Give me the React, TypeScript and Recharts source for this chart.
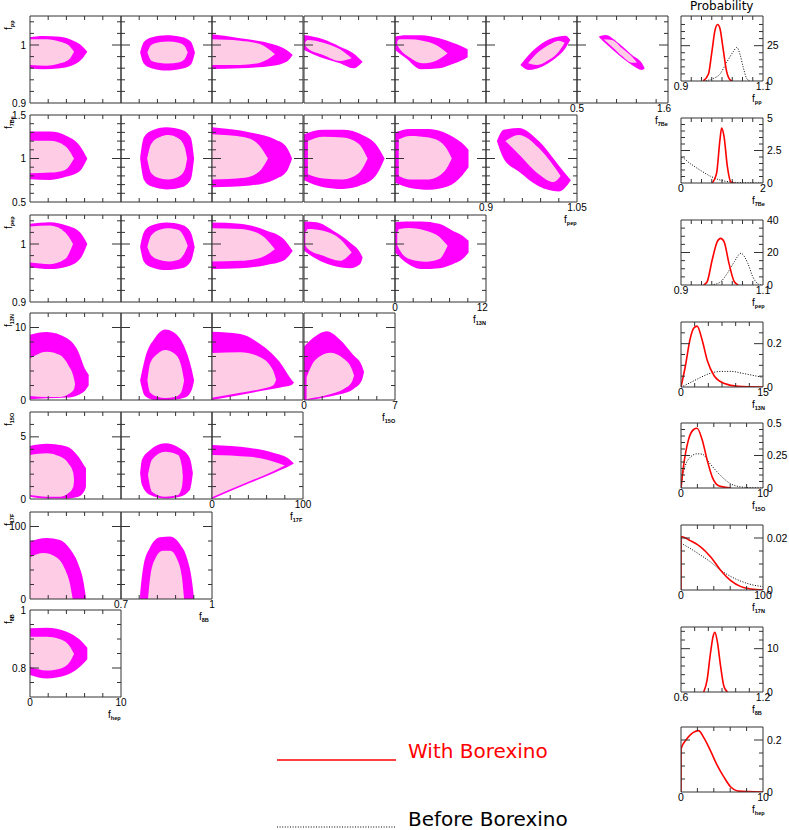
import React from "react";
import { ComposedChart, Area, Line, XAxis, YAxis } from "recharts";

type Band = [number, number, number]; // x, low, high
type Pt = [number, number];

// ---- pairwise 1σ/2σ regions, row variable on y, column variable on x ----
// row pp
const ppHepO: Band[] = [[0, 0.9598, 1.0132], [1.46, 0.958, 1.0155], [3.3, 0.9598, 1.0144], [4.76, 0.9655, 1.0075], [5.68, 0.9753, 0.9989], [6.3, 0.9885, 0.9885]];
const ppHepI: Band[] = [[0, 0.9655, 1.0098], [1.83, 0.9644, 1.0098], [3.3, 0.9684, 1.0057], [4.21, 0.9741, 1.0], [4.84, 0.9885, 0.9885]];
const pp8BO: Band[] = [[0.763, 0.987, 0.987], [0.775, 0.968, 1.005], [0.8, 0.96, 1.013], [0.85, 0.956, 1.017], [0.9, 0.959, 1.014], [0.93, 0.966, 1.006], [0.944, 0.987, 0.987]];
const pp8BI: Band[] = [[0.787, 0.987, 0.987], [0.8, 0.973, 1.0], [0.83, 0.969, 1.005], [0.855, 0.968, 1.006], [0.89, 0.97, 1.004], [0.91, 0.976, 0.998], [0.92, 0.987, 0.987]];
const pp17FO: Band[] = [[0, 0.9586, 1.0184], [30.8, 0.9598, 1.0116], [67, 0.9644, 1.0012], [82, 0.9712, 0.9914], [88.7, 0.9828, 0.9828]];
const pp17FI: Band[] = [[0, 0.9655, 1.0098], [30.8, 0.9655, 1.0074], [52.7, 0.9695, 1.0017], [69.2, 0.984, 0.984]];
const pp15OO: Band[] = [[0, 0.9914, 1.0172], [1.48, 0.977, 1.0098], [2.77, 0.9684, 0.9971], [3.79, 0.9598, 0.9857], [4.51, 0.9712, 0.9712]];
const pp15OI: Band[] = [[0.1, 0.999, 1.005], [0.28, 0.9943, 1.0086], [1.48, 0.9828, 1.004], [2.77, 0.9724, 0.9925], [3.67, 0.977, 0.977]];
const pp13NO: Band[] = [[0, 0.9914, 1.0144], [1.51, 0.977, 1.0167], [3.57, 0.958, 1.0167], [6.08, 0.9598, 1.0115], [7.92, 0.9672, 1.004], [9.29, 0.9741, 0.9971], [9.98, 0.9787, 0.9925]];
const pp13NI: Band[] = [[0.31, 1.0, 1.006], [0.59, 0.9943, 1.0098], [1.97, 0.9787, 1.0098], [3.79, 0.9684, 1.0075], [5.64, 0.973, 1.0], [7.23, 0.9856, 0.9856]];
const ppPepO: Band[] = [[0.9567, 0.9655, 0.9655], [0.9704, 0.9569, 0.9828], [0.9923, 0.9626, 1.0029], [1.0144, 0.977, 1.0132], [1.0309, 0.9943, 1.0161], [1.039, 1.0086, 1.0086]];
const ppPepI: Band[] = [[0.9692, 0.9684, 0.9684], [0.984, 0.9655, 0.9856], [1.0033, 0.9741, 1.0], [1.0198, 0.9885, 1.0075], [1.0297, 1.004, 1.004]];
const pp7BeO: Band[] = [[0.774, 1.0144, 1.0144], [0.859, 1.0029, 1.0172], [1.027, 0.9828, 1.0029], [1.195, 0.9655, 0.9828], [1.321, 0.9569, 0.9684], [1.356, 0.9598, 0.9598]];
const pp7BeI: Band[] = [[0.837, 1.0098, 1.0098], [0.942, 0.9971, 1.0086], [1.069, 0.981, 0.9943], [1.195, 0.9695, 0.9799], [1.258, 0.97, 0.97]];
// row 7Be
const be7HepO: Band[] = [[0, 0.761, 1.311], [2.2, 0.754, 1.311], [4.03, 0.792, 1.26], [5.49, 0.857, 1.145], [6.3, 1.0, 1.0]];
const be7HepI: Band[] = [[0, 0.83, 1.203], [2.2, 0.838, 1.203], [3.85, 0.869, 1.145], [4.84, 1.0, 1.0]];
const be78BO: Band[] = [[0.763, 1.0, 1.0], [0.775, 0.76, 1.24], [0.8, 0.68, 1.32], [0.85, 0.645, 1.36], [0.9, 0.67, 1.33], [0.93, 0.76, 1.24], [0.941, 1.0, 1.0]];
const be78BI: Band[] = [[0.786, 1.0, 1.0], [0.8, 0.83, 1.17], [0.83, 0.77, 1.25], [0.855, 0.76, 1.27], [0.89, 0.79, 1.23], [0.91, 0.87, 1.13], [0.918, 1.0, 1.0]];
const be717FO: Band[] = [[0, 0.67, 1.36], [42, 0.69, 1.3], [69, 0.76, 1.22], [82, 0.85, 1.13], [88, 1.0, 1.0]];
const be717FI: Band[] = [[0, 0.76, 1.28], [36, 0.78, 1.245], [52, 0.85, 1.15], [61.5, 1.0, 1.0]];
const be715OO: Band[] = [[0, 0.75, 1.28], [1.5, 0.67, 1.33], [3.0, 0.65, 1.33], [4.5, 0.7, 1.27], [5.6, 0.82, 1.15], [6.2, 1.0, 1.0]];
const be715OI: Band[] = [[0.3, 0.82, 1.2], [1.5, 0.77, 1.25], [3.0, 0.76, 1.24], [4.2, 0.83, 1.17], [4.9, 1.0, 1.0]];
const be713NO: Band[] = [[0, 0.72, 1.3], [2.08, 0.66, 1.34], [4.69, 0.64, 1.34], [7.29, 0.68, 1.28], [9.17, 0.8, 1.18], [10.1, 0.9, 1.1]];
const be713NI: Band[] = [[0.52, 0.8, 1.22], [2.08, 0.76, 1.26], [4.69, 0.76, 1.24], [6.77, 0.85, 1.15], [7.81, 1.0, 1.0]];
const be7PepO: Band[] = [[0.918, 1.2, 1.2], [0.929, 1.0, 1.33], [0.954, 0.85, 1.35], [0.987, 0.68, 1.2], [1.02, 0.62, 0.92], [1.04, 0.75, 0.75]];
const be7PepI: Band[] = [[0.932, 1.2, 1.2], [0.954, 1.05, 1.27], [0.987, 0.82, 1.12], [1.011, 0.73, 0.92], [1.023, 0.8, 0.8]];
// row pep
const pepHepO: Band[] = [[0, 0.9594, 1.0347], [2.2, 0.9567, 1.0374], [4.03, 0.9607, 1.0317], [5.49, 0.974, 1.0201], [6.3, 1.0, 1.0]];
const pepHepI: Band[] = [[0, 0.968, 1.03], [2.2, 0.9653, 1.0317], [3.85, 0.974, 1.0201], [4.73, 1.0, 1.0]];
const pep8BO: Band[] = [[0.763, 0.995, 0.995], [0.775, 0.97, 1.02], [0.8, 0.96, 1.032], [0.85, 0.955, 1.037], [0.9, 0.958, 1.033], [0.93, 0.97, 1.02], [0.943, 0.995, 0.995]];
const pep8BI: Band[] = [[0.787, 0.995, 0.995], [0.8, 0.98, 1.015], [0.83, 0.972, 1.025], [0.855, 0.97, 1.027], [0.89, 0.973, 1.024], [0.91, 0.985, 1.01], [0.92, 0.997, 0.997]];
const pep17FO: Band[] = [[0, 0.957, 1.037], [30.8, 0.958, 1.035], [60.1, 0.964, 1.023], [78.4, 0.971, 1.009], [88.7, 0.988, 0.988]];
const pep17FI: Band[] = [[0, 0.97, 1.027], [30.8, 0.971, 1.026], [52.7, 0.976, 1.017], [69.2, 0.991, 0.991]];
const pep15OO: Band[] = [[0, 0.9884, 1.039], [0.97, 0.974, 1.0374], [2.25, 0.9624, 1.023], [3.54, 0.9584, 1.0028], [4.31, 0.9653, 0.9855], [4.51, 0.9768, 0.9768]];
const pep15OI: Band[] = [[0.1, 0.998, 1.02], [0.33, 0.991, 1.026], [1.48, 0.9797, 1.023], [2.77, 0.971, 1.0087], [3.67, 0.9855, 0.9855]];
const pep13NO: Band[] = [[0, 0.9855, 1.0374], [1.51, 0.968, 1.039], [3.57, 0.9567, 1.039], [6.08, 0.9584, 1.0347], [7.92, 0.9653, 1.023], [9.29, 0.974, 1.0144], [10.11, 0.9855, 1.0057]];
const pep13NI: Band[] = [[0.31, 0.998, 1.02], [0.59, 0.991, 1.026], [1.97, 0.974, 1.0277], [4.26, 0.9693, 1.023], [6.08, 0.974, 1.0127], [7.23, 0.997, 0.997]];
// row 13N
const n13HepO: Band[] = [[0, 0.1, 9.01], [1.83, 0.23, 9.39], [4.03, 0.33, 8.54], [5.31, 0.7, 6.67], [6.04, 1.27, 4.32], [6.45, 2.0, 3.5]];
const n13HepI: Band[] = [[0, 0.56, 5.73], [1.83, 0.42, 6.67], [3.3, 0.42, 6.2], [4.21, 0.8, 4.79], [4.84, 1.5, 2.91], [4.95, 2.2, 2.2]];
const n138BO: Band[] = [[0.763, 2.68, 2.68], [0.779, 0.56, 5.73], [0.812, 0.0, 8.55], [0.845, 0.0, 9.72], [0.877, 0.05, 9.25], [0.911, 0.33, 7.14], [0.934, 1.5, 4.08], [0.941, 2.68, 2.68]];
const n138BI: Band[] = [[0.787, 2.68, 2.68], [0.796, 1.03, 5.02], [0.822, 0.42, 6.43], [0.845, 0.28, 6.9], [0.878, 0.42, 6.34], [0.898, 1.03, 4.79], [0.908, 2.68, 2.68]];
const n1317FO: Band[] = [[0, 0, 9.4], [31, 0.7, 9.1], [52, 1.2, 7.8], [74, 1.7, 5.3], [88, 2.1, 2.7], [90, 2.4, 2.4]];
const n1317FI: Band[] = [[0, 0.3, 6.5], [31, 1.0, 6.6], [53, 1.5, 5.9], [67, 2.0, 4.1], [70.5, 2.8, 2.8]];
const n1315OO: Band[] = [[0, 0, 7.37], [0.85, 0.1, 8.77], [1.75, 0.42, 9.48], [2.77, 0.8, 8.31], [3.79, 1.5, 6.2], [4.44, 2.68, 4.79], [4.62, 3.85, 3.85]];
const n1315OI: Band[] = [[0.2, 0.1, 3.14], [0.85, 0.33, 5.49], [2.0, 0.8, 6.53], [3.03, 1.5, 5.73], [3.67, 2.44, 4.32], [3.85, 3.38, 3.38]];
// row 15O
const o15HepO: Band[] = [[0, 0.19, 4.27], [1.83, 0.05, 4.44], [4.03, 0.05, 4.22], [5.31, 0.19, 3.41], [6.04, 0.73, 2.6], [6.15, 0.99, 2.5]];
const o15HepI: Band[] = [[0, 0.32, 3.55], [1.83, 0.19, 3.68], [3.3, 0.19, 3.41], [4.21, 0.46, 2.87], [4.76, 0.99, 2.07], [4.84, 1.53, 1.53]];
const o158BO: Band[] = [[0.763, 2.07, 2.07], [0.769, 1.13, 3.15], [0.796, 0.32, 3.95], [0.845, 0.05, 4.49], [0.894, 0.19, 4.09], [0.927, 0.73, 3.28], [0.937, 2.07, 2.07]];
const o158BI: Band[] = [[0.789, 1.94, 1.94], [0.802, 0.59, 3.15], [0.845, 0.19, 3.81], [0.888, 0.32, 3.55], [0.901, 1.0, 2.6], [0.904, 1.8, 1.8]];
const o1517FO: Band[] = [[0, 0, 4.35], [42, 1.3, 4.11], [68, 2.1, 3.7], [85, 2.65, 3.2], [90, 2.85, 2.85]];
const o1517FI: Band[] = [[0, 0.15, 3.55], [42, 1.45, 3.39], [68, 2.25, 3.0], [80, 2.7, 2.7]];
// row 17F
const f17HepO: Band[] = [[0, 0, 79.6], [1.83, 0, 84.3], [3.3, 0, 81.5], [4.4, 0, 69], [5.31, 0, 48.1], [5.86, 0, 25], [6.15, 0, 1.8]];
const f17HepI: Band[] = [[0, 0, 57.4], [1.47, 0, 63.4], [2.93, 0, 57.4], [3.85, 0, 41.2], [4.4, 0, 20.4], [4.69, 0, 0]];
const f178BO: Band[] = [[0.763, 0, 6.5], [0.773, 0, 43.5], [0.796, 0, 71.3], [0.829, 0, 85.2], [0.862, 0, 86.1], [0.894, 0, 76], [0.917, 0, 57.4], [0.934, 0, 25], [0.941, 0, 0]];
const f178BI: Band[] = [[0.789, 0, 0], [0.796, 0, 29.6], [0.812, 0, 55], [0.838, 0, 66.7], [0.862, 0, 66.7], [0.885, 0, 55], [0.901, 0, 29.6], [0.908, 0, 0]];
// row 8B
const b8HepO: Band[] = [[0, 0.776, 0.937], [1.83, 0.764, 0.939], [4.03, 0.776, 0.925], [5.49, 0.804, 0.897], [6.3, 0.83, 0.87]];
const b8HepI: Band[] = [[0, 0.804, 0.908], [1.83, 0.791, 0.908], [3.48, 0.799, 0.897], [4.4, 0.822, 0.873], [4.84, 0.848, 0.848]];

// ---- one-dimensional probability curves ----
const ppRed: Pt[] = [[0.954, 0], [0.967, 4.9], [0.975, 19.9], [0.983, 36], [0.9895, 40], [0.995, 37.2], [1.003, 22.2], [1.011, 7.2], [1.0195, 0.9], [1.025, 0]];
const ppDot: Pt[] = [[0.954, 0], [0.979, 1.8], [0.995, 4.9], [1.011, 13], [1.028, 21], [1.036, 23.8], [1.044, 18.8], [1.052, 9.5], [1.06, 1.9], [1.068, 0]];
const be7Red: Pt[] = [[0.76, 0], [0.867, 0.73], [0.95, 3.31], [0.991, 4.22], [1.05, 3.57], [1.132, 1.24], [1.215, 0.08], [1.3, 0]];
const be7Dot: Pt[] = [[0, 0], [0.002, 1.97], [0.223, 1.5], [0.47, 0.98], [0.72, 0.52], [0.97, 0.21], [1.215, 0.08], [1.46, 0.02], [2, 0]];
const pepRed: Pt[] = [[0.955, 0], [0.9637, 2], [0.976, 15.4], [0.9885, 26.7], [0.9967, 28.7], [1.005, 26.7], [1.017, 13.3], [1.03, 2], [1.04, 0]];
const pepDot: Pt[] = [[0.98, 0.3], [0.9967, 2], [1.013, 7.2], [1.03, 14.3], [1.046, 19.5], [1.063, 13.3], [1.075, 5.1], [1.088, 0.6], [1.095, 0]];
const n13Red: Pt[] = [[0, 0], [0.75, 0.09], [1.69, 0.224], [2.31, 0.271], [2.94, 0.281], [3.88, 0.216], [4.81, 0.122], [6.06, 0.052], [7.94, 0.016], [10.4, 0.003], [15, 0]];
const n13Dot: Pt[] = [[0, 0], [1.69, 0.02], [3.56, 0.044], [5.44, 0.064], [7.31, 0.072], [9.19, 0.072], [11.06, 0.064], [12.9, 0.055], [15, 0.044]];
const o15Red: Pt[] = [[0, 0], [0.29, 0.16], [0.91, 0.37], [1.54, 0.45], [1.96, 0.46], [2.59, 0.37], [3.21, 0.21], [3.84, 0.08], [4.66, 0.015], [6.1, 0]];
const o15Dot: Pt[] = [[0, 0], [0.29, 0.12], [1.13, 0.237], [1.96, 0.263], [2.59, 0.26], [3.63, 0.18], [4.88, 0.093], [6.13, 0.03], [7.79, 0.005], [10, 0]];
const f17Red: Pt[] = [[0, 0], [0.05, 0.0206], [11.2, 0.019], [23.5, 0.0167], [36, 0.0128], [48.3, 0.0076], [60.7, 0.0036], [73, 0.0013], [85.5, 0.0004], [100, 0]];
const f17Dot: Pt[] = [[0, 0.018], [11.2, 0.016], [23.5, 0.0135], [36, 0.0108], [48.3, 0.0076], [60.7, 0.0052], [73, 0.0034], [85.5, 0.0021], [100, 0.0013]];
const b8Red: Pt[] = [[0.766, 0], [0.791, 2.76], [0.816, 9.06], [0.836, 13], [0.848, 13.8], [0.865, 11.8], [0.89, 5.9], [0.915, 1.2], [0.94, 0]];
const hepRed: Pt[] = [[0, 0], [0.01, 0.166], [0.7, 0.204], [1.73, 0.233], [2.14, 0.236], [2.76, 0.21], [3.59, 0.159], [4.42, 0.102], [5.24, 0.057], [6.07, 0.019], [6.9, 0.004], [10, 0]];

// ---- axes ----
const colNames = ["hep", "8B", "17F", "15O", "13N", "pep", "7Be"];
const colDomains: [number, number][] = [[0, 10], [0.7, 1], [0, 100], [0, 7], [0, 12.5], [0.9, 1.05], [0.5, 1.65]];
const colTicks = [[2, 4, 6, 8], [0.76, 0.82, 0.88, 0.94], [20, 40, 60, 80], [1.4, 2.8, 4.2, 5.6], [2.5, 5, 7.5, 10], [0.93, 0.96, 0.99, 1.02], [0.75, 1, 1.25, 1.5]];
const colLabels = [[0, 10], [0.7, 1], [0, 100], [0, 7], [0, 12], [0.9, 1.05], [0.5, 1.6]];
const rowNames = ["pp", "7Be", "pep", "13N", "15O", "17F", "8B"];
const rowDomains: [number, number][] = [[0.9, 1.05], [0.5, 1.5], [0.9, 1.05], [0, 12], [0, 7], [0, 120], [0.7, 1]];
const rowTicks = [[0.92, 0.94, 0.96, 0.98, 1, 1.02, 1.04], [0.6, 0.7, 0.8, 0.9, 1, 1.1, 1.2, 1.3, 1.4], [0.92, 0.94, 0.96, 0.98, 1, 1.02, 1.04], [2, 4, 6, 8, 10], [1, 2, 3, 4, 5, 6], [20, 40, 60, 80, 100], [0.75, 0.8, 0.85, 0.9, 0.95]];
const rowMajor = [[1], [1], [1], [10], [5], [100], [0.8]];
const rowLabels = [[0.9, 1], [0.5, 1, 1.5], [0.9, 1], [0, 10], [0, 5], [0, 100], [0.8, 1]];

const contours: [Band[], Band[]][][] = [
  [[ppHepO, ppHepI], [pp8BO, pp8BI], [pp17FO, pp17FI], [pp15OO, pp15OI], [pp13NO, pp13NI], [ppPepO, ppPepI], [pp7BeO, pp7BeI]],
  [[be7HepO, be7HepI], [be78BO, be78BI], [be717FO, be717FI], [be715OO, be715OI], [be713NO, be713NI], [be7PepO, be7PepI]],
  [[pepHepO, pepHepI], [pep8BO, pep8BI], [pep17FO, pep17FI], [pep15OO, pep15OI], [pep13NO, pep13NI]],
  [[n13HepO, n13HepI], [n138BO, n138BI], [n1317FO, n1317FI], [n1315OO, n1315OI]],
  [[o15HepO, o15HepI], [o158BO, o158BI], [o1517FO, o1517FI]],
  [[f17HepO, f17HepI], [f178BO, f178BI]],
  [[b8HepO, b8HepI]],
];

const probNames = ["pp", "7Be", "pep", "13N", "15O", "17N", "8B", "hep"];
const probXDomains: [number, number][] = [[0.9, 1.1], [0, 2], [0.9, 1.1], [0, 15], [0, 10], [0, 100], [0.6, 1.2], [0, 10]];
const probXTicks = [[0.925, 0.95, 0.975, 1, 1.025, 1.05, 1.075], [0.25, 0.5, 0.75, 1, 1.25, 1.5, 1.75], [0.925, 0.95, 0.975, 1, 1.025, 1.05, 1.075], [2.5, 5, 7.5, 10, 12.5], [2, 4, 6, 8], [20, 40, 60, 80], [0.7, 0.8, 0.9, 1, 1.1], [2, 4, 6, 8]];
const probYDomains: [number, number][] = [[0, 46], [0, 5], [0, 40], [0, 0.3], [0, 0.5], [0, 0.025], [0, 15], [0, 0.25]];
const probYTicks = [[5, 10, 15, 20, 25, 30, 35, 40], [0.5, 1, 1.5, 2, 2.5, 3, 3.5, 4, 4.5], [5, 10, 15, 20, 25, 30, 35], [0.05, 0.1, 0.15, 0.2, 0.25], [0.05, 0.1, 0.15, 0.2, 0.25, 0.3, 0.35, 0.4, 0.45], [0.005, 0.01, 0.015, 0.02], [2, 4, 6, 8, 10, 12, 14], [0.05, 0.1, 0.15, 0.2]];
const probYMajor = [[25], [2.5], [20], [0.2], [0.25], [0.02], [10], [0.2]];
const probYLabels = [[0, 25], [0, 2.5, 5], [0, 20, 40], [0, 0.2], [0, 0.25, 0.5], [0, 0.02], [0, 10], [0, 0.2]];
const probRed = [ppRed, be7Red, pepRed, n13Red, o15Red, f17Red, b8Red, hepRed];
const probDot: (Pt[] | null)[] = [ppDot, be7Dot, pepDot, n13Dot, o15Dot, f17Dot, null, null];

// ---- layout ----
const FONT = "'Liberation Sans', Arial, sans-serif";
const TITLE_FONT = "'DejaVu Sans', sans-serif";
const INK = "#333";
const AX = { stroke: INK, strokeWidth: 1 };
const TICK_LABEL = { fontSize: 10, fill: "#000", fontFamily: FONT };
const PW = 91;
const PH = 87;
const COL_X = [30, 121, 212, 304, 395, 486, 577];
const ROW_Y = [16, 115, 215, 313, 412, 512, 610];
const PROB_X = 681;
const PROB_W = 82;
const PROB_H = 65;
const PROB_Y = [16, 118, 220, 322, 423, 525, 627, 727];
const YW = 30;
const XH = 14;
const M = { top: 8, right: 14, bottom: 8, left: 12 };

// inward tick marks, longer on the major values
const tickMark = (side: "l" | "r" | "t" | "b", majors: number[]) => (props: any) => {
  const { x, y, payload } = props;
  const major = majors.some((m) => Math.abs(m - payload.value) < 1e-9);
  const len = major ? 9 : 4;
  const dx = side === "l" ? len : side === "r" ? -len : 0;
  const dy = side === "t" ? len : side === "b" ? -len : 0;
  return <line x1={x} y1={y} x2={x + dx} y2={y + dy} stroke={INK} strokeWidth={1} />;
};

function frameAxes(xd: [number, number], yd: [number, number], xt: number[], yt: number[], ymaj: number[]) {
  const common = { type: "number" as const, allowDataOverflow: true, mirror: true, interval: 0 as const, axisLine: AX, tickLine: false, tickSize: 0, tickMargin: 0 };
  return [
    <XAxis key="xb" xAxisId="b" dataKey="x" domain={xd} ticks={xt} height={1} tick={tickMark("b", [])} {...common} />,
    <XAxis key="xt" xAxisId="t" orientation="top" dataKey="x" domain={xd} ticks={xt} height={1} tick={tickMark("t", [])} {...common} />,
    <YAxis key="yl" yAxisId="l" domain={yd} ticks={yt} width={1} tick={tickMark("l", ymaj)} {...common} />,
    <YAxis key="yr" yAxisId="r" orientation="right" domain={yd} ticks={yt} width={1} tick={tickMark("r", ymaj)} {...common} />,
  ];
}

function Sub({ name, size = 10, rotate = false, left, top }: { name: string; size?: number; rotate?: boolean; left: number; top: number }) {
  return (
    <div
      style={{
        position: "absolute",
        left,
        top,
        fontFamily: FONT,
        fontSize: size,
        lineHeight: 1,
        whiteSpace: "nowrap",
        transformOrigin: "left top",
        transform: rotate ? "rotate(-90deg)" : undefined,
      }}
    >
      f<span style={{ fontSize: size * 0.55, fontWeight: "bold", position: "relative", top: 2 }}>{name}</span>
    </div>
  );
}

function ContourPanel({ r, c }: { r: number; c: number }) {
  const [outer, inner] = contours[r][c];
  const xd = colDomains[c];
  const yd = rowDomains[r];
  const first = c === 0;
  const last = c === contours[r].length - 1;
  const width = M.left + (first ? YW : 0) + PW + M.right;
  const height = M.top + PH + M.bottom + (last ? XH : 0);
  return (
    <div style={{ position: "absolute", left: COL_X[c] - M.left - (first ? YW : 0), top: ROW_Y[r] - M.top }}>
      <ComposedChart width={width} height={height} margin={M}>
        <Area xAxisId="b" yAxisId="l" data={outer.map(([x, lo, hi]) => ({ x, v: [lo, hi] }))} dataKey="v" type="monotone"
          stroke="none" fill="#FF00FF" fillOpacity={1} dot={false} activeDot={false} isAnimationActive={false} />
        <Area xAxisId="b" yAxisId="l" data={inner.map(([x, lo, hi]) => ({ x, v: [lo, hi] }))} dataKey="v" type="monotone"
          stroke="none" fill="#FFCCE6" fillOpacity={1} dot={false} activeDot={false} isAnimationActive={false} />
        {frameAxes(xd, yd, colTicks[c], rowTicks[r], rowMajor[r])}
        {first && (
          <YAxis yAxisId="lab" type="number" domain={yd} ticks={rowLabels[r]} allowDataOverflow width={YW} interval={0}
            tickLine={false} axisLine={false} tickSize={0} tickMargin={4} tick={TICK_LABEL} />
        )}
        {last && (
          <XAxis xAxisId="lab" type="number" dataKey="x" domain={xd} ticks={colLabels[c]} allowDataOverflow height={XH} interval={0}
            tickLine={false} axisLine={false} tickSize={0} tickMargin={2} tick={TICK_LABEL} />
        )}
      </ComposedChart>
    </div>
  );
}

function ProbPanel({ i }: { i: number }) {
  const xd = probXDomains[i];
  const yd = probYDomains[i];
  const RW = 28;
  const dot = probDot[i];
  return (
    <div style={{ position: "absolute", left: PROB_X - M.left, top: PROB_Y[i] - M.top }}>
      <ComposedChart width={M.left + PROB_W + RW + 2} height={M.top + PROB_H + M.bottom + XH} margin={{ ...M, right: 2 }}>
        {dot && (
          <Line xAxisId="b" yAxisId="l" data={dot.map(([x, y]) => ({ x, y }))} dataKey="y" type="monotone" stroke="#000"
            strokeWidth={1} strokeDasharray="1 1.6" dot={false} activeDot={false} isAnimationActive={false} />
        )}
        <Line xAxisId="b" yAxisId="l" data={probRed[i].map(([x, y]) => ({ x, y }))} dataKey="y" type="monotone" stroke="#FF0000"
          strokeWidth={1.6} dot={false} activeDot={false} isAnimationActive={false} />
        {frameAxes(xd, yd, probXTicks[i], probYTicks[i], probYMajor[i])}
        <YAxis yAxisId="lab" orientation="right" type="number" domain={yd} ticks={probYLabels[i]} allowDataOverflow width={RW} interval={0}
          tickLine={false} axisLine={false} tickSize={0} tickMargin={4} tick={{ ...TICK_LABEL, fontSize: 10.5 }} />
        <XAxis xAxisId="lab" type="number" dataKey="x" domain={xd} ticks={xd} allowDataOverflow height={XH} interval={0}
          tickLine={false} axisLine={false} tickSize={0} tickMargin={2} tick={{ ...TICK_LABEL, fontSize: 10.5 }} />
      </ComposedChart>
    </div>
  );
}

export default function App() {
  return (
    <div style={{ position: "absolute", left: 0, top: 0, width: 789, height: 830, background: "#fff", overflow: "hidden" }}>
      {contours.map((row, r) => row.map((_, c) => <ContourPanel key={`${r}-${c}`} r={r} c={c} />))}
      {rowNames.map((n, r) => (
        <Sub key={`rn${n}`} name={n} rotate left={4} top={ROW_Y[r] + 14} />
      ))}
      {rowNames.map((_, r) => {
        const c = contours[r].length - 1;
        return <Sub key={`cn${r}`} name={colNames[c]} left={COL_X[c] + PW - 13} top={ROW_Y[r] + PH + 13} />;
      })}
      {probNames.map((_, i) => <ProbPanel key={`p${i}`} i={i} />)}
      {probNames.map((n, i) => (
        <Sub key={`pn${n}`} name={n} left={PROB_X + PROB_W - 11} top={PROB_Y[i] + PROB_H + 13} />
      ))}
      <div style={{ position: "absolute", left: 690, top: -1, fontFamily: TITLE_FONT, fontSize: 12, color: "#000" }}>Probability</div>
      <svg style={{ position: "absolute", left: 277, top: 755 }} width={120} height={10}>
        <line x1={0} x2={119} y1={5} y2={5} stroke="#FF0000" strokeWidth={1.5} />
      </svg>
      <div style={{ position: "absolute", left: 408, top: 739, fontFamily: TITLE_FONT, fontSize: 20, color: "#FF0000", whiteSpace: "nowrap" }}>With Borexino</div>
      <svg style={{ position: "absolute", left: 277, top: 822 }} width={120} height={10}>
        <line x1={0} x2={119} y1={5} y2={5} stroke="#000" strokeWidth={1} strokeDasharray="1 1.6" />
      </svg>
      <div style={{ position: "absolute", left: 408, top: 807, fontFamily: TITLE_FONT, fontSize: 20, color: "#000", whiteSpace: "nowrap" }}>Before Borexino</div>
    </div>
  );
}
